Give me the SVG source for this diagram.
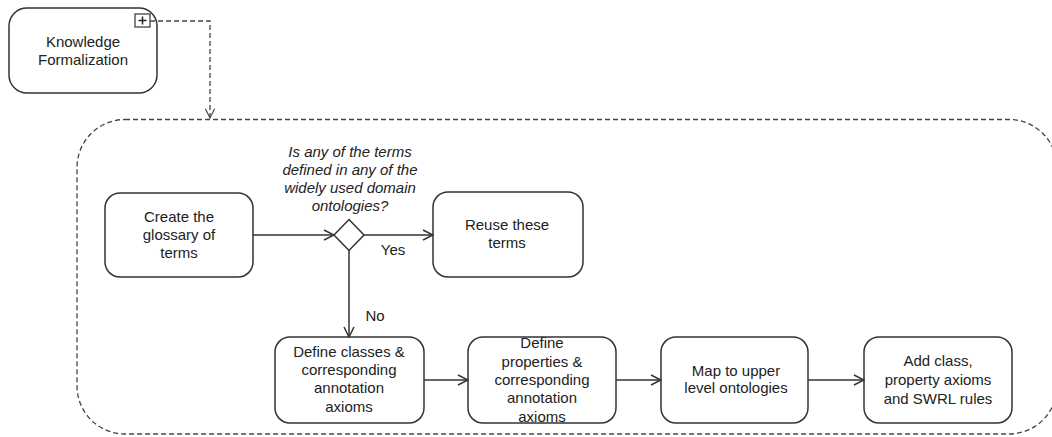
<svg xmlns="http://www.w3.org/2000/svg" width="1052" height="437" viewBox="0 0 1052 437">
  <defs>
    <style>
      .box { fill: #ffffff; stroke: #333333; stroke-width: 1.5; }
      .lbl { font-family: "Liberation Sans", Arial, sans-serif; font-size: 15px; fill: #222222; text-anchor: middle; }
      .q { font-style: italic; }
      .flow { fill: none; stroke: #333333; stroke-width: 1.5; }
      .dash { fill: none; stroke: #444444; stroke-width: 1.3; stroke-dasharray: 5 3; }
    </style>
    <marker id="arrow" viewBox="0 0 12 12" refX="11" refY="6" markerWidth="12" markerHeight="12" markerUnits="userSpaceOnUse" orient="auto">
      <path d="M1,1 L11,6 L1,11" fill="none" stroke="#333333" stroke-width="1.5"/>
    </marker>
    <marker id="arrowThin" viewBox="0 0 12 12" refX="11" refY="6" markerWidth="11" markerHeight="11" markerUnits="userSpaceOnUse" orient="auto">
      <path d="M1,1 L11,6 L1,11" fill="none" stroke="#444444" stroke-width="1.2"/>
    </marker>
  </defs>
  <rect width="1052" height="437" fill="#ffffff"/>

  <!-- expanded sub-process boundary -->
  <g id="subprocess">
    <rect class="dash" x="77" y="119.5" width="980" height="314.5" rx="48" ry="48"/>
  </g>

  <!-- collapsed parent activity -->
  <g id="knowledge-formalization">
    <rect class="box" x="9" y="8" width="148" height="85" rx="18" ry="18"/>
    <rect x="135" y="14" width="15" height="13" fill="#ffffff" stroke="#333333" stroke-width="1.2"/>
    <path d="M142.5,16.5 V24.5 M138.5,20.5 H146.5" stroke="#222222" stroke-width="1.5"/>
    <text class="lbl" x="83" y="47">Knowledge</text>
    <text class="lbl" x="83" y="65">Formalization</text>
  </g>

  <g id="create-glossary">
    <rect class="box" x="105" y="193" width="148" height="84" rx="15" ry="15"/>
    <text class="lbl" x="179" y="222">Create the</text>
    <text class="lbl" x="179" y="240">glossary of</text>
    <text class="lbl" x="179" y="258">terms</text>
  </g>

  <g id="decision">
    <path class="box" d="M349,219.5 L364,235 L349,250.5 L334,235 Z"/>
    <text class="lbl q" x="350" y="157">Is any of the terms</text>
    <text class="lbl q" x="350" y="175">defined in any of the</text>
    <text class="lbl q" x="350" y="193">widely used domain</text>
    <text class="lbl q" x="350" y="211">ontologies?</text>
  </g>

  <g id="reuse-terms">
    <rect class="box" x="433" y="192" width="150" height="85" rx="15" ry="15"/>
    <text class="lbl" x="507" y="230">Reuse these</text>
    <text class="lbl" x="507" y="248">terms</text>
  </g>

  <g id="define-classes">
    <rect class="box" x="275" y="337" width="149" height="86" rx="15" ry="15"/>
    <text class="lbl" x="349" y="357">Define classes &amp;</text>
    <text class="lbl" x="349" y="375">corresponding</text>
    <text class="lbl" x="349" y="393">annotation</text>
    <text class="lbl" x="349" y="412">axioms</text>
  </g>

  <g id="define-properties">
    <rect class="box" x="468" y="337" width="148" height="86" rx="15" ry="15"/>
    <text class="lbl" x="542" y="348">Define</text>
    <text class="lbl" x="542" y="367">properties &amp;</text>
    <text class="lbl" x="542" y="385">corresponding</text>
    <text class="lbl" x="542" y="403">annotation</text>
    <text class="lbl" x="542" y="422">axioms</text>
  </g>

  <g id="map-upper">
    <rect class="box" x="661" y="337" width="147" height="86" rx="15" ry="15"/>
    <text class="lbl" x="736" y="376">Map to upper</text>
    <text class="lbl" x="736" y="393">level ontologies</text>
  </g>

  <g id="add-axioms">
    <rect class="box" x="864" y="337" width="148" height="86" rx="15" ry="15"/>
    <text class="lbl" x="938" y="366">Add class,</text>
    <text class="lbl" x="938" y="385">property axioms</text>
    <text class="lbl" x="938" y="404">and SWRL rules</text>
  </g>

  <g id="connectors">
    <path class="dash" d="M150,21 H210 V118" marker-end="url(#arrowThin)"/>
    <path class="flow" d="M253,235 H334" marker-end="url(#arrow)"/>
    <path class="flow" d="M364,235 H433" marker-end="url(#arrow)"/>
    <path class="flow" d="M349,250.5 V337" marker-end="url(#arrow)"/>
    <path class="flow" d="M424,380 H468" marker-end="url(#arrow)"/>
    <path class="flow" d="M616,380 H661" marker-end="url(#arrow)"/>
    <path class="flow" d="M808,380 H864" marker-end="url(#arrow)"/>
    <text class="lbl" x="393" y="255">Yes</text>
    <text class="lbl" x="375" y="321">No</text>
  </g>
</svg>
